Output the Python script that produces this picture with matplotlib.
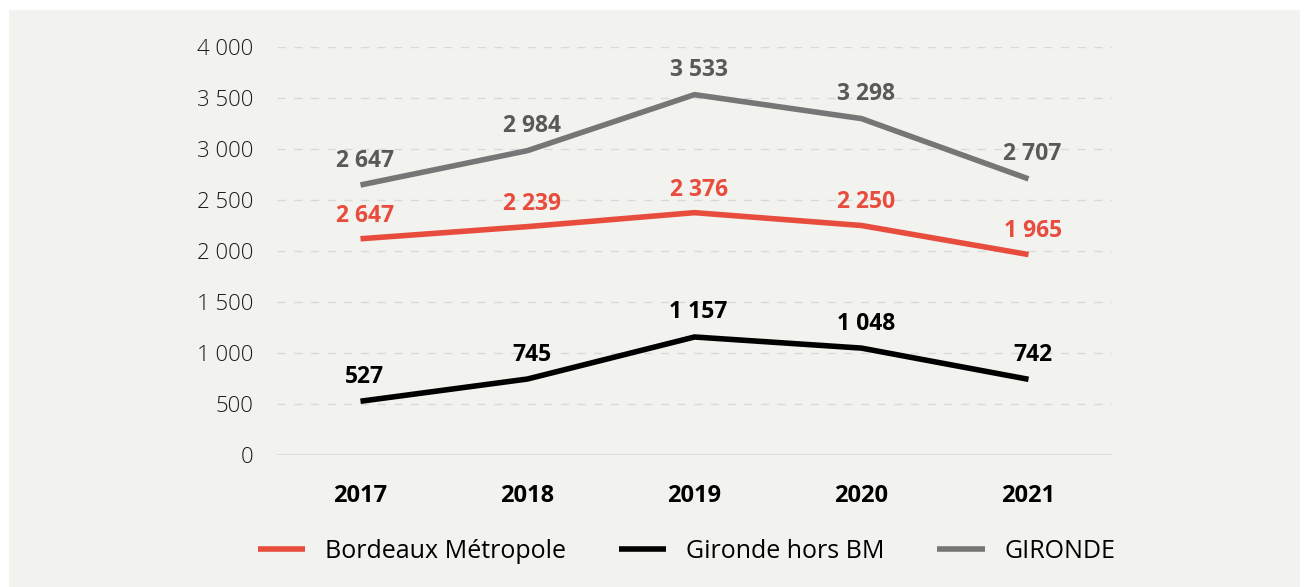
import numpy as np
import matplotlib.pyplot as plt
from matplotlib.patches import Rectangle

plt.rcParams['font.family'] = ['Open Sans', 'DejaVu Sans']

# donnees
annees = ['2017', '2018', '2019', '2020', '2021']
bm = [2120, 2239, 2376, 2250, 1965]
bm_lab = ['2 647', '2 239', '2 376', '2 250', '1 965']
hors_bm = [527, 745, 1157, 1048, 742]
hors_lab = ['527', '745', '1 157', '1 048', '742']
gironde = [2647, 2984, 3533, 3298, 2707]
gir_lab = ['2 647', '2 984', '3 533', '3 298', '2 707']
yticks = [0, 500, 1000, 1500, 2000, 2500, 3000, 3500, 4000]
ytick_lab = ['0', '500', '1 000', '1 500', '2 000', '2 500', '3 000', '3 500', '4 000']

rouge = '#e84c3d'
gris = '#767676'
noir = '#000000'
fond = '#f2f2ee'

fig = plt.figure(figsize=(13.11, 5.87), dpi=100)
fig.patches.append(Rectangle((9/1311, 0), 1291/1311, 577/587, transform=fig.transFigure,
                             facecolor=fond, edgecolor='none', zorder=-10))
ax = fig.add_axes([277/1311, 132/587, 835/1311, 408/587])
ax.set_facecolor('none')

x = np.arange(len(annees))
ax.plot(x, bm, color=rouge, lw=4, label='Bordeaux Métropole', solid_capstyle='butt')
ax.plot(x, hors_bm, color=noir, lw=4, label='Gironde hors BM', solid_capstyle='butt')
ax.plot(x, gironde, color=gris, lw=4, label='GIRONDE', solid_capstyle='butt')

for xi, v, t in zip(x, bm, bm_lab):
    ax.annotate(t, (xi, v), xytext=(3, 8), textcoords='offset points', ha='center',
                va='bottom', color=rouge, fontsize=16.5, fontweight='bold')
for xi, v, t in zip(x, hors_bm, hors_lab):
    ax.annotate(t, (xi, v), xytext=(3, 9), textcoords='offset points', ha='center',
                va='bottom', color=noir, fontsize=16.5, fontweight='bold')
for xi, v, t in zip(x, gironde, gir_lab):
    ax.annotate(t, (xi, v), xytext=(3, 9), textcoords='offset points', ha='center',
                va='bottom', color='#595959', fontsize=16.5, fontweight='bold')

ax.set_xlim(-0.5, 4.5)
ax.set_ylim(0, 4000)
ax.set_xticks(x)
ax.set_xticklabels(annees, fontsize=17, fontweight='bold')
ax.set_yticks(yticks)
ax.set_yticklabels(ytick_lab, fontsize=16, fontweight='light', color='#1a1a1a')
ax.tick_params(length=0, pad=17, axis='y')
ax.tick_params(length=0, pad=21, axis='x')
for s in ax.spines.values():
    s.set_visible(False)
for y in yticks[1:]:
    ax.axhline(y, color='#d9d9d9', lw=1, ls=(0, (6, 6)), zorder=0)
ax.axhline(0, color='#d9d9d9', lw=1.2, zorder=0)

fig.legend(loc='center', bbox_to_anchor=(0.524, 1 - 551/587), ncol=3, frameon=False,
           fontsize=18, handlelength=1.9, columnspacing=2.1, handletextpad=0.8)

fig.savefig('out.png', dpi=100, facecolor='white')
